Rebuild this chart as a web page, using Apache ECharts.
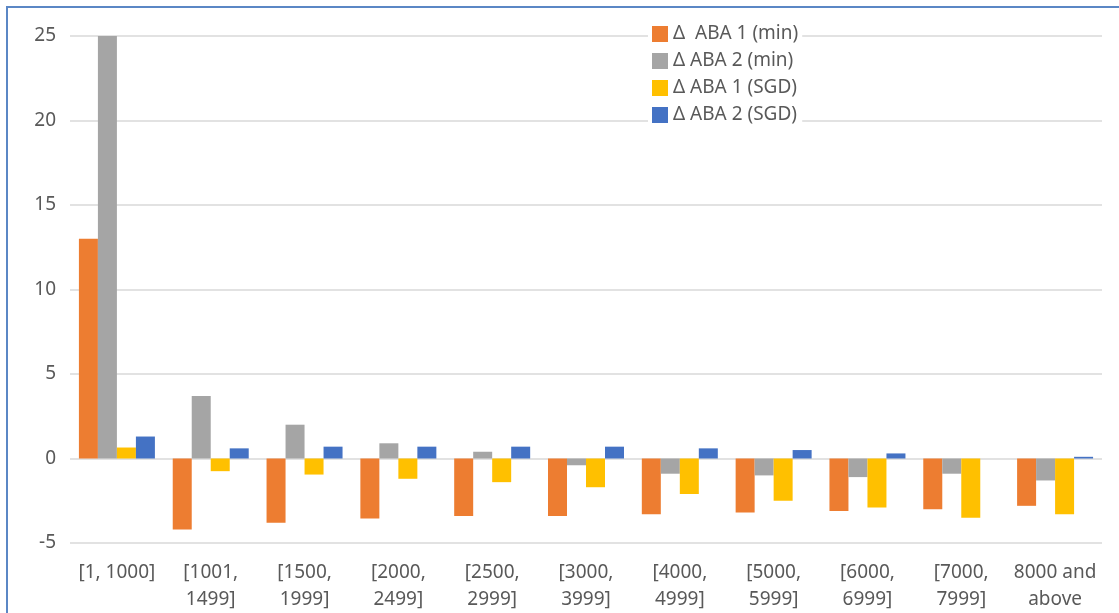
<!DOCTYPE html>
<html>
<head>
<meta charset="utf-8">
<script src="https://cdn.jsdelivr.net/npm/echarts@6/dist/echarts.min.js"></script>
<style>
  html, body { margin: 0; padding: 0; background: #ffffff; }
  #frame {
    position: absolute; left: 6px; top: 6px; width: 1200px; height: 700px;
    border-top: 2px solid #5b87c5; border-left: 2px solid #5b87c5;
    box-sizing: border-box;
  }
  #chart { position: absolute; left: 0; top: 0; width: 1119px; height: 613px; }
</style>
</head>
<body>
<div id="frame"></div>
<div id="chart"></div>
<script>
// Income brackets on the category axis
const categories = [
  '[1, 1000]', '[1001,\n1499]', '[1500,\n1999]', '[2000,\n2499]', '[2500,\n2999]',
  '[3000,\n3999]', '[4000,\n4999]', '[5000,\n5999]', '[6000,\n6999]', '[7000,\n7999]',
  '8000 and\nabove'
];

// Change in ABA per bracket
const aba1Min = [13, -4.2, -3.8, -3.55, -3.4, -3.4, -3.3, -3.2, -3.1, -3.0, -2.8];
const aba2Min = [25, 3.7, 2.0, 0.9, 0.4, -0.4, -0.9, -1.0, -1.1, -0.9, -1.3];
const aba1Sgd = [0.65, -0.75, -0.95, -1.2, -1.4, -1.7, -2.1, -2.5, -2.9, -3.5, -3.3];
const aba2Sgd = [1.3, 0.6, 0.7, 0.7, 0.7, 0.7, 0.6, 0.5, 0.3, 0, 0.1];

const seriesNames = ['\u0394  ABA 1 (min)', '\u0394 ABA 2 (min)', '\u0394 ABA 1 (SGD)', '\u0394 ABA 2 (SGD)'];
const seriesColors = ['#ED7D31', '#A5A5A5', '#FFC000', '#4472C4'];
const seriesData = [aba1Min, aba2Min, aba1Sgd, aba2Sgd];

// y-axis range and step
const yMin = -5, yMax = 25, yStep = 5;

const font = 'Noto Sans, Open Sans, sans-serif';
const chart = echarts.init(document.getElementById('chart'));
chart.setOption({
  animation: false,
  textStyle: { fontFamily: font },
  grid: { left: 70, right: 17, top: 36, bottom: 70, containLabel: false },
  legend: {
    orient: 'vertical', left: 648, top: 21,
    icon: 'rect', itemWidth: 16, itemHeight: 16, itemGap: 3,
    backgroundColor: '#ffffff', padding: [1, 4, 1, 4],
    textStyle: { color: '#595959', fontSize: 19, lineHeight: 24, fontFamily: font },
    data: seriesNames
  },
  xAxis: {
    type: 'category', data: categories,
    axisLine: { show: false }, axisTick: { show: false },
    axisLabel: { color: '#595959', fontSize: 19, lineHeight: 27, margin: 16, interval: 0 }
  },
  yAxis: {
    type: 'value', min: yMin, max: yMax, interval: yStep,
    axisLine: { show: false }, axisTick: { show: false },
    axisLabel: { color: '#595959', fontSize: 19, margin: 14 },
    splitLine: { lineStyle: { color: '#D9D9D9', width: 1.5 } }
  },
  series: seriesNames.map((name, i) => ({
    name, type: 'bar', data: seriesData[i],
    itemStyle: { color: seriesColors[i] },
    barGap: '0%', barCategoryGap: '19%'
  }))
});
</script>
</body>
</html>
